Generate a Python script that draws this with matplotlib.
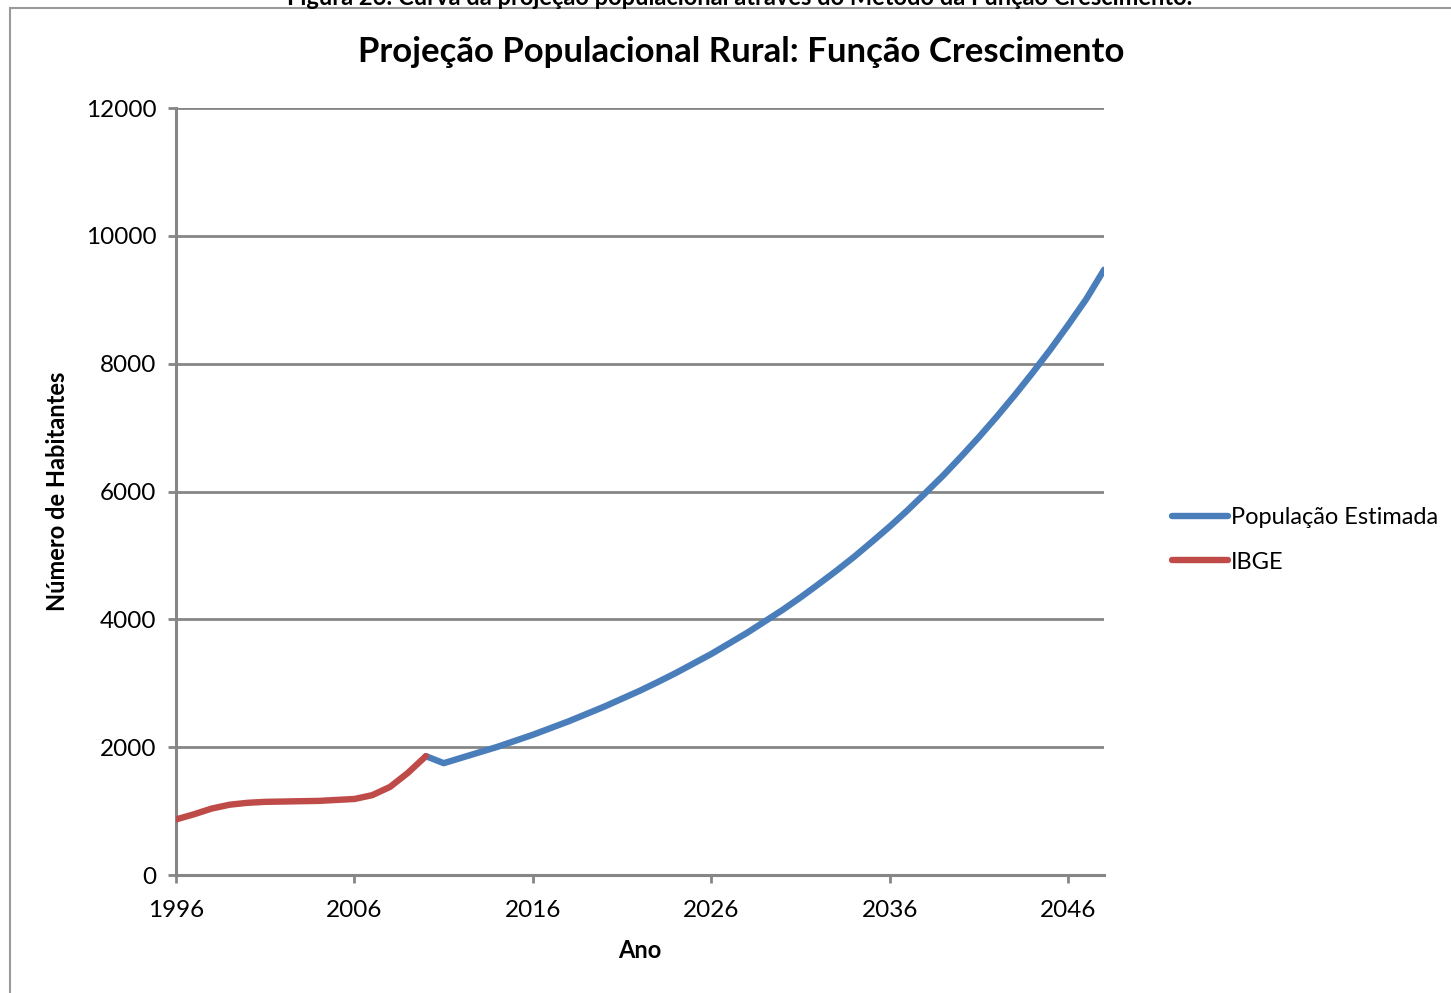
import matplotlib.pyplot as plt
import matplotlib as mpl
from matplotlib.patches import Rectangle

mpl.rcParams['font.family'] = ['Lato', 'DejaVu Sans']

# IBGE (observed) rural population
anos_ibge = list(range(1996, 2011))
pop_ibge = [870, 950, 1040, 1100, 1130, 1145, 1150, 1155, 1160, 1175,
            1190, 1250, 1380, 1600, 1860]

# projected rural population (growth function)
anos_est = list(range(2010, 2049))
pop_est = [1860, 1750, 1835, 1920, 2005, 2100, 2195, 2300, 2405, 2520,
           2635, 2760, 2885, 3020, 3160, 3310, 3460, 3625, 3790, 3970,
           4150, 4345, 4550, 4760, 4980, 5215, 5455, 5710, 5980, 6255,
           6550, 6855, 7175, 7510, 7860, 8225, 8610, 9010, 9470]

xticks = [1996, 2006, 2016, 2026, 2036, 2046]
yticks = [0, 2000, 4000, 6000, 8000, 10000, 12000]

grey = '#868686'
fig = plt.figure(figsize=(14.51, 9.93), dpi=100)
ax = fig.add_axes([0.1213, 0.1188, 0.6396, 0.7724])

# outer frame of the chart object, cut by the page
fig.patches.append(Rectangle((10 / 1451, -0.1), 1.2, 0.1 + (1 - 8 / 993),
                             transform=fig.transFigure, fill=False,
                             edgecolor='#9a9a9a', lw=1.5))
fig.text(0.51, 1 - 5 / 993,
         'Figura 26: Curva da projeção populacional através do Método da Função Crescimento.',
         ha='center', va='baseline', fontsize=17, fontweight='bold')

ax.plot(anos_est, pop_est, color='#4A7EBB', lw=4.6, label='População Estimada',
        solid_joinstyle='round', solid_capstyle='round', zorder=3)
ax.plot(anos_ibge, pop_ibge, color='#BE4B48', lw=4.6, label='IBGE',
        solid_joinstyle='round', solid_capstyle='round', zorder=4)

ax.set_xlim(1996, 2048)
ax.set_ylim(0, 12000)
ax.set_xticks(xticks)
ax.set_yticks(yticks)
ax.grid(axis='y', color=grey, lw=2)
ax.set_axisbelow(True)
for s in ['top', 'right']:
    ax.spines[s].set_visible(False)
for s in ['left', 'bottom']:
    ax.spines[s].set_color(grey)
    ax.spines[s].set_linewidth(2.2)
ax.tick_params(length=6, width=2, color=grey, labelsize=17.5, pad=8)
ax.tick_params(axis='x', pad=12)

# title is centred on the whole chart area, not on the plot area
fig.text(741 / 1451, 1 - 52 / 993,
         'Projeção Populacional Rural: Função Crescimento',
         ha='center', va='center', fontsize=25, fontweight='bold')
ax.set_xlabel('Ano', fontsize=17, fontweight='bold', labelpad=13)
ax.set_ylabel('Número de Habitantes', fontsize=17, fontweight='bold',
              labelpad=12)

ax.legend(loc='center left', bbox_to_anchor=(1.05, 0.437), frameon=False,
          fontsize=17, handlelength=2.4, handletextpad=0.1,
          labelspacing=1.0)

plt.savefig('out.png', dpi=100)
